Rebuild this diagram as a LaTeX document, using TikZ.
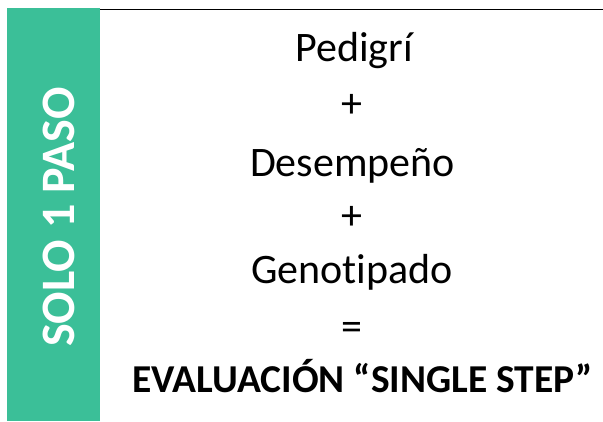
\documentclass[tikz,border=0pt]{standalone}
\usepackage{fontspec}
\setmainfont{Carlito}[Ligatures=NoCommon]
\definecolor{pasogreen}{RGB}{59,191,152}

\begin{document}
\begin{tikzpicture}[x=1pt,y=1pt,line cap = round,
        word/.style={anchor=base, inner sep=0pt, font=\fontsize{42}{50}\selectfont},
        sign/.style={anchor=center, inner sep=0pt, font=\fontsize{42}{50}\selectfont}]

        % Size of the whole picture.
        \useasboundingbox (0,0) rectangle (603,421);

        % Positions of all of the lines of text.
        \coordinate (pedigri) at (354, 359.5);
        \coordinate (plusa) at (352, 315);
        \coordinate (desempeno) at (352.5, 244.5);
        \coordinate (plusb) at (352, 203);
        \coordinate (genotipado) at (352, 137);
        \coordinate (equals) at (352, 90);
        \coordinate (evaluacion) at (362.5, 29);

        % Green bar with its rotated title.
        \fill[pasogreen] (6.5, 0) rectangle (100, 413);
        \node[inner sep=0pt, rotate=90, text=white,
            font=\fontsize{48}{56}\selectfont\bfseries]
            (solo) at (58.5, 204) {SOLO 1 PASO};

        % Rule along the top.
        \draw[line width=1.5pt, line cap=butt] (100, 411.5) -- (603, 411.5);

        % The sum, one node per line.
        \node[word] (pedigriText) at (pedigri) {Pedigrí};
        \node[sign] (plusaText) at (plusa) {+};
        \node[word] (desempenoText) at (desempeno) {Desempeño};
        \node[sign] (plusbText) at (plusb) {+};
        \node[word] (genotipadoText) at (genotipado) {Genotipado};
        \node[sign] (equalsText) at (equals) {=};
        \node[word, font=\fontsize{39.5}{47}\selectfont\bfseries]
            (evaluacionText) at (evaluacion) {EVALUACIÓN “SINGLE STEP”};
    \end{tikzpicture}
\end{document}
